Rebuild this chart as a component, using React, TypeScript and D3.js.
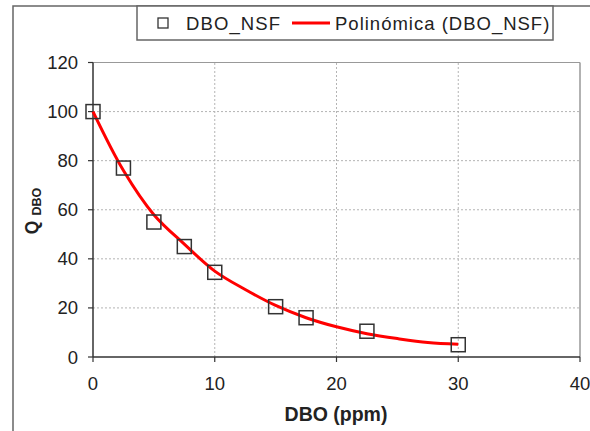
import React from "react";
import * as d3 from "d3";

// measured points (DBO ppm -> Q)
const dboValues = [0, 2.5, 5, 7.5, 10, 15, 17.5, 22.5, 30];
const qValues = [100, 77, 55, 45, 34.5, 20.5, 16, 10.5, 5];

// trend line
const trendX = [0, 2.5, 5, 7.5, 10, 12.5, 15, 17.5, 20, 22.5, 25, 27.5, 30];
const trendY = [100, 76, 58, 46, 35, 27.5, 21, 16, 12.3, 9.5, 7.5, 5.9, 5.2];

const xTicks = [0, 10, 20, 30, 40];
const yTicks = [0, 20, 40, 60, 80, 100, 120];

const FONT = "'Liberation Sans', Arial, sans-serif";

const App = () => {
  const width = 590;
  const height = 431;

  const x = d3.scaleLinear().domain([0, 40]).range([93, 580]);
  const y = d3.scaleLinear().domain([0, 120]).range([357, 62.5]);

  const line = d3
    .line<number>()
    .x((d, i) => x(trendX[i]))
    .y((d) => y(d))
    .curve(d3.curveCatmullRom);

  return (
    <svg
      width={width}
      height={height}
      style={{ position: "fixed", left: 0, top: 0, background: "#fff" }}
      fontFamily={FONT}
    >
      {/* outer chart frame */}
      <rect x={13} y={6} width={620} height={460} fill="#fff" stroke="#666" strokeWidth={1.5} />

      {/* gridlines */}
      {yTicks.slice(1, -1).map((t) => (
        <line key={"gy" + t} x1={x(0)} x2={x(40)} y1={y(t)} y2={y(t)} stroke="#b4b4b4" strokeDasharray="2,2" />
      ))}
      {xTicks.slice(1, -1).map((t) => (
        <line key={"gx" + t} x1={x(t)} x2={x(t)} y1={y(0)} y2={y(120)} stroke="#b4b4b4" strokeDasharray="2,2" />
      ))}

      {/* plot border top/right */}
      <line x1={x(0)} x2={x(40)} y1={y(120)} y2={y(120)} stroke="#999" strokeWidth={1.2} />
      <line x1={x(40)} x2={x(40)} y1={y(120)} y2={y(0)} stroke="#999" strokeWidth={1.5} />

      {/* axes */}
      <line x1={x(0)} x2={x(0)} y1={y(120)} y2={y(0)} stroke="#333" strokeWidth={1.5} />
      <line x1={x(0)} x2={x(40)} y1={y(0)} y2={y(0)} stroke="#333" strokeWidth={1.5} />
      {yTicks.map((t) => (
        <g key={"ty" + t}>
          <line x1={x(0) - 5} x2={x(0)} y1={y(t)} y2={y(t)} stroke="#333" strokeWidth={1.2} />
          <text x={78} y={y(t) + 6.5} textAnchor="end" fontSize={18.5} fill="#222">
            {t}
          </text>
        </g>
      ))}
      {xTicks.map((t) => (
        <g key={"tx" + t}>
          <line x1={x(t)} x2={x(t)} y1={y(0)} y2={y(0) + 5} stroke="#333" strokeWidth={1.2} />
          <text x={x(t)} y={390} textAnchor="middle" fontSize={18.5} fill="#222">
            {t}
          </text>
        </g>
      ))}

      {/* axis titles */}
      <text x={336} y={421} textAnchor="middle" fontSize={19.5} fontWeight="bold" fill="#222">
        DBO (ppm)
      </text>
      <text transform="translate(38,211) rotate(-90)" textAnchor="middle" fontSize={17.5} fontWeight="bold" fill="#222">
        Q
        <tspan fontSize={12.5} dx={5} dy={3}>
          DBO
        </tspan>
      </text>

      {/* trend */}
      <path d={line(trendY) ?? ""} fill="none" stroke="#ff0000" strokeWidth={3} />

      {/* markers */}
      {dboValues.map((d, i) => (
        <rect
          key={"m" + i}
          x={x(d) - 7}
          y={y(qValues[i]) - 7}
          width={14}
          height={14}
          fill="none"
          stroke="#333"
          strokeWidth={1.5}
        />
      ))}

      {/* legend */}
      <g>
        <rect x={137} y={6} width={416} height={34} fill="#fff" stroke="#666" strokeWidth={1.5} />
        <rect x={158} y={18} width={10} height={10} fill="#fff" stroke="#333" strokeWidth={1.3} />
        <text x={186} y={30} fontSize={18.5} letterSpacing={1.1} fill="#222">
          DBO_NSF
        </text>
        <line x1={292} x2={330} y1={23} y2={23} stroke="#ff0000" strokeWidth={3} />
        <text x={335} y={30} fontSize={18.5} letterSpacing={1} fill="#222">
          Polinómica (DBO_NSF)
        </text>
      </g>
    </svg>
  );
};

export default App;
